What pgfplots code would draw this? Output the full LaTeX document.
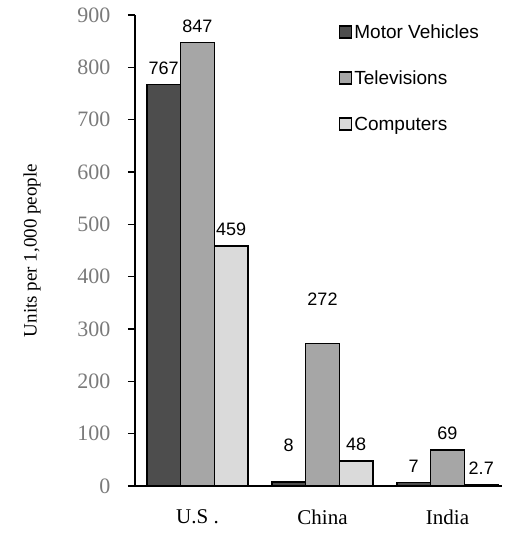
\documentclass[border=0pt]{standalone}
\usepackage{pgfplots}
\pgfplotsset{compat=1.18}
\usepackage{fontspec}
\setmainfont{Liberation Serif}
\newfontfamily\arial{Liberation Sans}

\definecolor{mvfill}{HTML}{4D4D4D}
\definecolor{tvfill}{HTML}{A6A6A6}
\definecolor{pcfill}{HTML}{DADADA}
\definecolor{ticktext}{HTML}{7A7A7A}

\begin{document}
\begin{tikzpicture}
\useasboundingbox (-135pt,-47pt) rectangle (372pt,486pt);
\begin{axis}[
    at={(0,0)}, anchor=south west,
    scale only axis,
    width=367pt, height=471pt,
    xmin=-0.5, xmax=2.436,
    ymin=0, ymax=900,
    axis x line=bottom, axis y line=left,
    axis line style={-, line width=1.5pt},
    ybar=0pt, bar width=0.27,
    xtick={0,1,2},
    xticklabels={U.S .,China,India},
    extra x ticks={-0.5,0.5,1.5},
    extra x tick labels={},
    extra x tick style={major tick length=8pt, tick style={line width=1.5pt, black}},
    x tick style={draw=none},
    x tick label style={font=\fontsize{21}{24}\selectfont, yshift=-13pt},
    ytick={0,100,...,900},
    y tick style={line width=1.5pt, black},
    major tick length=7pt,
    tick align=outside,
    y tick label style={font=\fontsize{22}{26}\selectfont, text=ticktext, xshift=-14pt},
    /pgf/number format/assume math mode=true,
    ylabel={Units per 1,000 people},
    ylabel style={font=\fontsize{19}{22}\selectfont},
    ylabel shift=30pt,
    nodes near coords,
    every node near coord/.append style={font=\arial\fontsize{18}{20}\selectfont, yshift=6pt, text=black},
    legend style={at={(rel axis cs:0.555,0.985)}, anchor=north west, draw=none, fill=none,
        font=\arial\fontsize{19}{22}\selectfont, row sep=27pt, inner sep=0pt},
    legend cell align=left,
    legend image code/.code={\draw[#1, line width=1.5pt] (0pt,-6pt) rectangle (12pt,6pt);},
    clip=false,
]
\addplot[draw=black, line width=1.5pt, fill=mvfill,
    coordinate style/.condition={\coordindex==1}{yshift=20pt}]
    coordinates {(0,767) (1,8) (2,7)};
\addplot[draw=black, line width=1.5pt, fill=tvfill,
    coordinate style/.condition={\coordindex==1}{yshift=28pt}]
    coordinates {(0,847) (1,272) (2,69)};
\addplot[draw=black, line width=1.5pt, fill=pcfill,
    nodes near coords={\pgfmathprintnumber[fixed, precision=1]{\pgfplotspointmeta}}]
    coordinates {(0,459) (1,48) (2,2.7)};
\legend{Motor Vehicles, Televisions, Computers}
\end{axis}
\end{tikzpicture}
\end{document}
